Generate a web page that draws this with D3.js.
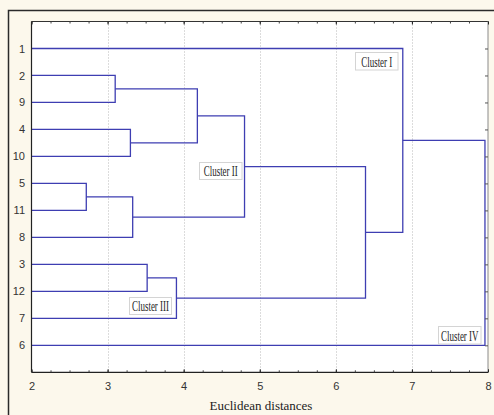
<!DOCTYPE html>
<html><head><meta charset="utf-8">
<script src="https://cdn.jsdelivr.net/npm/d3@7"></script>
<style>html,body{margin:0;padding:0;background:#fcf8ec;}svg{display:block;}</style>
</head><body>
<script>
// Leaf order (top to bottom)
const leaves = ["1","2","9","4","10","5","11","8","3","12","7","6"];
// Merges: [id, childA, childB, linkage distance]
const merges = [
  ["n29","2","9",3.10],
  ["n410","4","10",3.30],
  ["n2_10","n29","n410",4.18],
  ["n511","5","11",2.72],
  ["n5_8","n511","8",3.33],
  ["cII","n2_10","n5_8",4.80],
  ["n312","3","12",3.52],
  ["cIII","n312","7",3.905],
  ["nII_III","cII","cIII",6.39],
  ["n1","1","nII_III",6.88],
  ["root","n1","6",7.96]
];
const xTicks = [2,3,4,5,6,7,8];
const clusterLabels = ["Cluster I","Cluster II","Cluster III","Cluster IV"];
const xTitle = "Euclidean distances";

const W=494,H=415;
const L=31.5,R=488,T=21.5,B=372.3;
const svg=d3.select("body").append("svg").attr("width",W).attr("height",H);
svg.append("rect").attr("width",W).attr("height",H).attr("fill","#fcf8ec");
// outer frame
svg.append("rect").attr("x",8.5).attr("y",10.5).attr("width",600).attr("height",600)
  .attr("fill","none").attr("stroke","#2a2a2a").attr("stroke-width",1.5);
// plot area
svg.append("rect").attr("x",L).attr("y",T).attr("width",R-L).attr("height",B-T).attr("fill","#ffffff");

const x=d3.scaleLinear().domain([2,8]).range([L,R]);
const y=d3.scalePoint().domain(leaves).range([T,B]).padding(1);

// grid
svg.append("g").selectAll("line").data(xTicks.slice(1,-1)).join("line")
  .attr("x1",d=>Math.round(x(d))+0.5).attr("x2",d=>Math.round(x(d))+0.5)
  .attr("y1",T).attr("y2",B)
  .attr("stroke","#b8b8b8").attr("stroke-width",1).attr("stroke-dasharray","1,2");

// compute node positions
const pos={};
leaves.forEach(l=>pos[l]={x:x(2),y:y(l)});
const links=[];
merges.forEach(([id,a,b,h])=>{
  const nx=x(h);
  pos[id]={x:nx,y:(pos[a].y+pos[b].y)/2};
  links.push({a:pos[a],b:pos[b],x:nx});
});
const line=d3.line();
const g=svg.append("g").attr("fill","none").attr("stroke","#3e3eb2").attr("stroke-width",1.3);
links.forEach(k=>{
  g.append("path").attr("d",line([[k.a.x,k.a.y],[k.x,k.a.y],[k.x,k.b.y],[k.b.x,k.b.y]]));
});

// borders
svg.append("line").attr("x1",L).attr("x2",R).attr("y1",T).attr("y2",T).attr("stroke","#333").attr("stroke-width",1);
svg.append("line").attr("x1",R).attr("x2",R).attr("y1",T).attr("y2",B).attr("stroke","#8a8a8a").attr("stroke-width",1);
svg.append("line").attr("x1",L).attr("x2",L).attr("y1",T).attr("y2",B).attr("stroke","#222").attr("stroke-width",1.2);
svg.append("line").attr("x1",L).attr("x2",R).attr("y1",B).attr("y2",B).attr("stroke","#222").attr("stroke-width",1.2);

// ticks (inside) via axes
const minor=d3.range(2,8.001,0.25);
const topAx=d3.axisBottom(x).tickValues(minor).tickSize(2).tickFormat("");
svg.append("g").attr("transform",`translate(0,${T})`).call(topAx)
  .call(s=>s.select(".domain").remove()).selectAll("line").attr("stroke","#444");
const botAx=d3.axisTop(x).tickValues(minor).tickSize(2).tickFormat("");
svg.append("g").attr("transform",`translate(0,${B})`).call(botAx)
  .call(s=>s.select(".domain").remove()).selectAll("line").attr("stroke","#444");
const majT=d3.axisBottom(x).tickValues(xTicks).tickSize(3).tickFormat("");
svg.append("g").attr("transform",`translate(0,${T})`).call(majT)
  .call(s=>s.select(".domain").remove()).selectAll("line").attr("stroke","#222");
const majB=d3.axisBottom(x).tickValues(xTicks).tickSize(0).tickPadding(9.5).tickFormat(d3.format("d"));
const gb=svg.append("g").attr("transform",`translate(0,${B})`).call(majB);
gb.select(".domain").remove();
gb.selectAll("text").attr("font-family","Liberation Sans, Arial, sans-serif").attr("font-size",11).attr("fill","#333");
gb.selectAll(".tick").append("line").attr("y1",0).attr("y2",-3).attr("stroke","#222");
const rightAx=d3.axisLeft(y).tickSize(3).tickFormat("");
svg.append("g").attr("transform",`translate(${R},0)`).call(rightAx)
  .call(s=>s.select(".domain").remove()).selectAll("line").attr("stroke","#555");
const leftAx=d3.axisLeft(y).tickSize(0).tickPadding(6.5);
const gl=svg.append("g").attr("transform",`translate(${L},0)`).call(leftAx);
gl.select(".domain").remove();
gl.selectAll("text").attr("font-family","Liberation Sans, Arial, sans-serif").attr("font-size",11).attr("fill","#333");

// cluster labels (boxes placed near the cluster links)
const boxes=[
  {bx:355.5,by:52.5,w:42.5,h:17.5},
  {bx:199.5,by:162.5,w:42.5,h:17},
  {bx:129.5,by:297.5,w:42,h:17},
  {bx:438.5,by:326.5,w:42.5,h:17.5}
];
const lg=svg.append("g");
clusterLabels.forEach((t,i)=>{
  const b=boxes[i];
  lg.append("rect").attr("x",b.bx).attr("y",b.by).attr("width",b.w).attr("height",b.h)
    .attr("fill","#fff").attr("stroke","#d4d4d4").attr("stroke-width",1);
  lg.append("text")
    .attr("transform",`translate(${b.bx+b.w/2},${b.by+b.h-3.2}) scale(0.64,1)`)
    .attr("text-anchor","middle").attr("font-family","Liberation Serif, Times New Roman, serif")
    .attr("font-size",14).attr("fill","#222").text(t);
});

svg.append("text").attr("x",261).attr("y",410).attr("text-anchor","middle")
  .attr("font-family","Liberation Serif, Times New Roman, serif").attr("font-size",13).attr("fill","#222")
  .text(xTitle);
</script>
</body></html>
